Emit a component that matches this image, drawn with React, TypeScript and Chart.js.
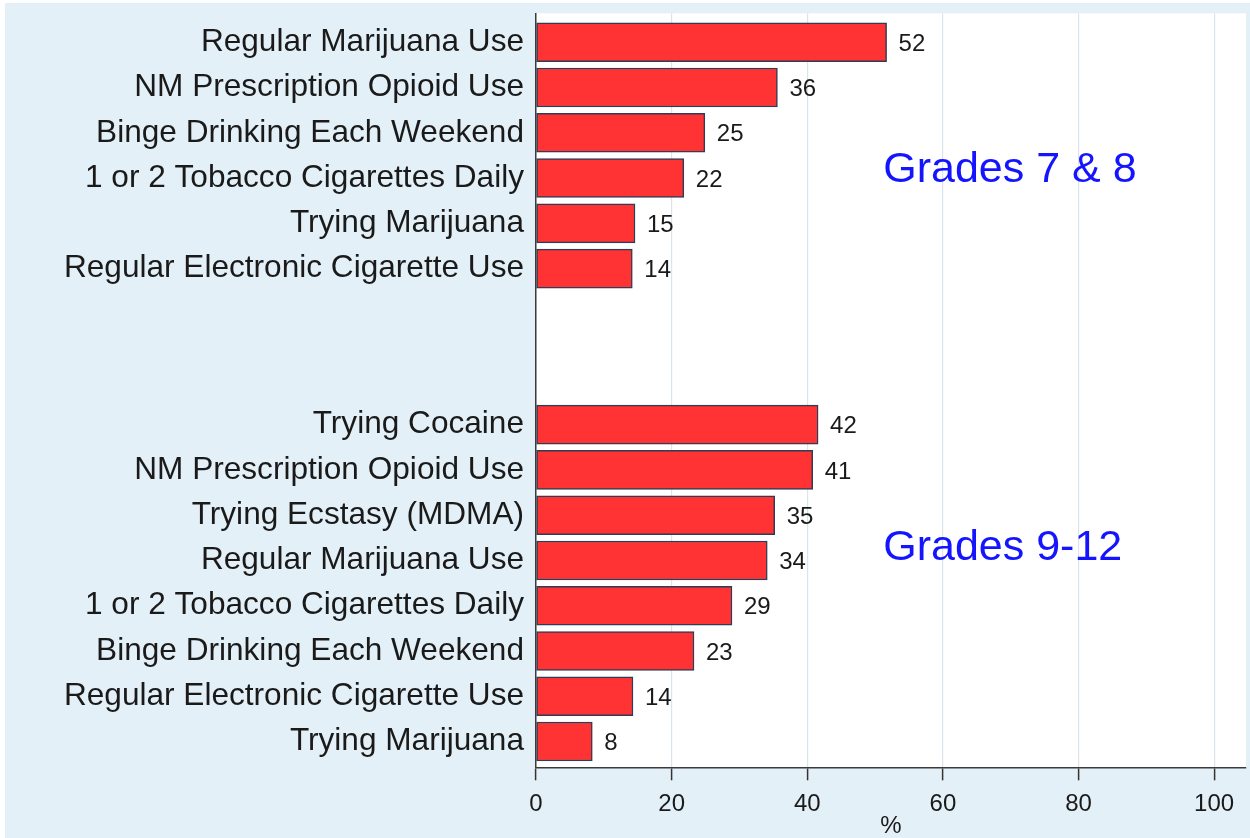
import React, { useEffect, useRef } from "react";
import { Chart, registerables } from "chart.js";

Chart.register(...registerables);

const groupTitles = ["Grades 7 & 8", "Grades 9-12"];

const middleSchoolLabels = [
  "Regular Marijuana Use",
  "NM Prescription Opioid Use",
  "Binge Drinking Each Weekend",
  "1 or 2 Tobacco Cigarettes Daily",
  "Trying Marijuana",
  "Regular Electronic Cigarette Use",
];
const middleSchoolValues = [51.7, 35.6, 24.9, 21.8, 14.6, 14.2];

const highSchoolLabels = [
  "Trying Cocaine",
  "NM Prescription Opioid Use",
  "Trying Ecstasy (MDMA)",
  "Regular Marijuana Use",
  "1 or 2 Tobacco Cigarettes Daily",
  "Binge Drinking Each Weekend",
  "Regular Electronic Cigarette Use",
  "Trying Marijuana",
];
const highSchoolValues = [41.6, 40.8, 35.2, 34.1, 28.9, 23.3, 14.3, 8.3];

const xTickValues = [0, 20, 40, 60, 80, 100];
const xAxisTitle = "%";

// layout constants (not data)
const GROUP_GAP = 2.45;
const FONT = "'Liberation Sans', Arial, Helvetica, sans-serif";

export default function App() {
  const ref = useRef<HTMLCanvasElement | null>(null);

  useEffect(() => {
    if (!ref.current) return;
    const n1 = middleSchoolValues.length;
    const positions = [
      ...middleSchoolValues.map((_, i) => i),
      ...highSchoolValues.map((_, i) => i + n1 + GROUP_GAP),
    ];
    const allLabels = [...middleSchoolLabels, ...highSchoolLabels];
    const allValues = [...middleSchoolValues, ...highSchoolValues];
    const data = allValues.map((v, i) => ({ x: v, y: positions[i] }));
    const titlePositions = [
      { x: 51.2, y: 2.82 },
      { x: 51.2, y: 11.17 },
    ];

    const labelPlugin = {
      id: "valueLabels",
      afterDatasetsDraw(chart: any) {
        const ctx = chart.ctx;
        const meta = chart.getDatasetMeta(0);
        ctx.save();
        ctx.font = `24px ${FONT}`;
        ctx.fillStyle = "#1a1a1a";
        ctx.textAlign = "left";
        ctx.textBaseline = "middle";
        meta.data.forEach((bar: any, i: number) => {
          ctx.fillText(String(Math.round(allValues[i])), bar.x + 12, bar.y + 2);
        });
        const xs = chart.scales.x;
        const ys = chart.scales.y;
        ctx.font = `43px ${FONT}`;
        ctx.fillStyle = "#1414ff";
        groupTitles.forEach((t, i) => {
          ctx.fillText(
            t,
            xs.getPixelForValue(titlePositions[i].x),
            ys.getPixelForValue(titlePositions[i].y)
          );
        });
        ctx.restore();
      },
    };

    const chart = new Chart(ref.current, {
      type: "bar",
      data: {
        datasets: [
          {
            data,
            backgroundColor: "#ff3333",
            borderColor: "#2e3d55",
            borderWidth: 1.5,
            borderSkipped: false,
            barThickness: 39,
          },
        ],
      },
      options: {
        indexAxis: "y",
        animation: false,
        responsive: false,
        layout: { padding: { top: 10.3, right: 4, left: 0, bottom: 0 } },
        plugins: {
          legend: { display: false },
          tooltip: { enabled: false },
        },
        scales: {
          x: {
            type: "linear",
            min: 0,
            max: 104.7,
            offset: false,
            afterBuildTicks(scale: any) {
              scale.ticks = xTickValues.map((v) => ({ value: v }));
            },
            afterFit(scale: any) {
              scale.height = 70.7;
              scale.paddingLeft = 0;
              scale.paddingRight = 0;
            },
            grid: {
              offset: false,
              color: "#d9e5eb",
              lineWidth: 1.2,
              tickColor: "#333333",
              tickLength: 13,
              tickWidth: 1.5,
            },
            border: { display: true, color: "#3a3a3a", width: 1.5 },
            ticks: {
              padding: 10,
              color: "#1a1a1a",
              font: { size: 24, family: FONT },
            },
            title: {
              display: true,
              text: xAxisTitle,
              color: "#1a1a1a",
              font: { size: 24, family: FONT, lineHeight: 1 },
              padding: { top: 0, bottom: 0 },
            },
          },
          y: {
            type: "linear",
            reverse: true,
            offset: false,
            min: -0.64,
            max: 16.02,
            afterBuildTicks(scale: any) {
              scale.ticks = positions.map((v) => ({ value: v }));
            },
            afterFit(scale: any) {
              scale.width = 531;
              scale.paddingTop = 0;
              scale.paddingBottom = 0;
            },
            grid: { display: false, drawTicks: false, offset: false },
            border: { display: true, color: "#3a3a3a", width: 1.5 },
            ticks: {
              autoSkip: false,
              padding: 12,
              color: "#1a1a1a",
              font: { size: 31.6, family: FONT, lineHeight: 1 },
              callback: (_v: any, i: number) => allLabels[i],
            },
          },
        },
      },
      plugins: [
        labelPlugin,
        {
          id: "plotBg",
          beforeDraw(chart: any) {
            const { ctx, chartArea } = chart;
            ctx.save();
            ctx.fillStyle = "#ffffff";
            ctx.fillRect(
              chartArea.left,
              chartArea.top,
              chartArea.right - chartArea.left,
              chartArea.bottom - chartArea.top
            );
            ctx.restore();
          },
        },
      ],
    } as any);
    return () => chart.destroy();
  }, []);

  return (
    <div
      style={{
        position: "fixed",
        left: 0,
        top: 0,
        width: 1250,
        height: 838,
        background: "#ffffff",
      }}
    >
      <div
        style={{
          position: "absolute",
          left: 5,
          top: 3,
          width: 1245,
          height: 835,
          background: "#e4f0f7",
        }}
      >
        <canvas
          ref={ref}
          width={1245}
          height={835}
          style={{ width: 1245, height: 835, display: "block" }}
        />
      </div>
    </div>
  );
}
